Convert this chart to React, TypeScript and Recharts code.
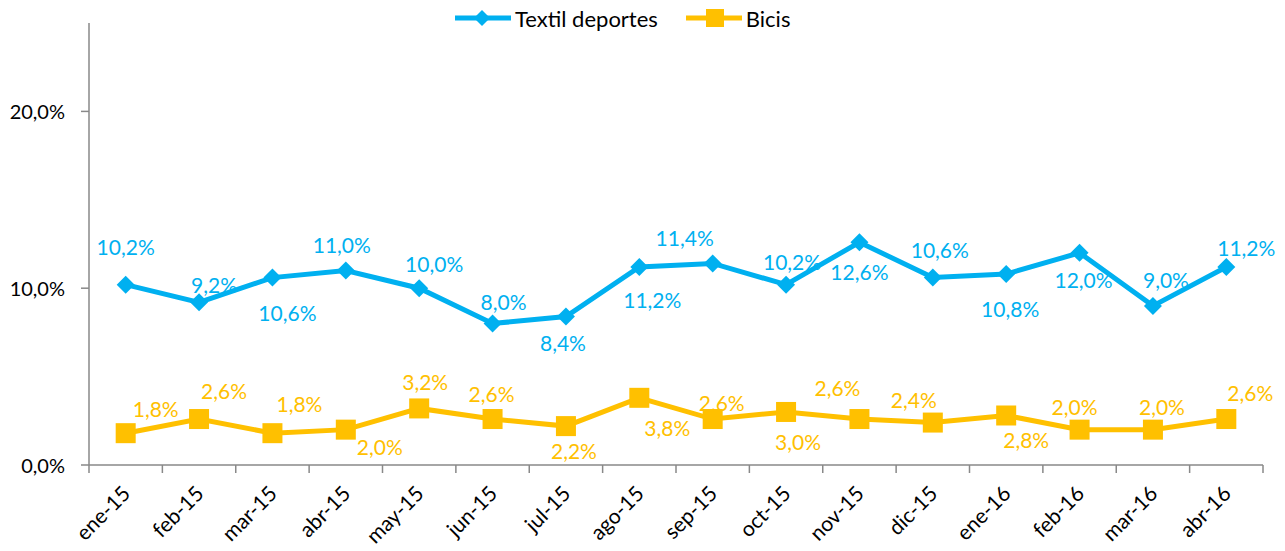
import React from 'react';
import { LineChart, Line, XAxis, YAxis } from 'recharts';

const months = [
  'ene-15', 'feb-15', 'mar-15', 'abr-15', 'may-15', 'jun-15', 'jul-15', 'ago-15',
  'sep-15', 'oct-15', 'nov-15', 'dic-15', 'ene-16', 'feb-16', 'mar-16', 'abr-16',
];
const textilDeportes = [10.2, 9.2, 10.6, 11.0, 10.0, 8.0, 8.4, 11.2, 11.4, 10.2, 12.6, 10.6, 10.8, 12.0, 9.0, 11.2];
const bicis = [1.8, 2.6, 1.8, 2.0, 3.2, 2.6, 2.2, 3.8, 2.6, 3.0, 2.6, 2.4, 2.8, 2.0, 2.0, 2.6];
const yTicks = [0, 10, 20];

// label placement (style only): [dx, dy] from the point to the label centre
const blueLabelOffsets: [number, number][] = [
  [0, -38], [15, -18], [15, 35], [-4, -26], [15, -25], [11, -22], [-3, 26], [13, 33],
  [-28, -26], [6, -23], [0, 29], [7, -28], [4, 34], [4, 27], [13, -26], [20, -19],
];
const yellowLabelOffsets: [number, number][] = [
  [30, -25], [25, -29], [27, -30], [34, 17], [6, -27], [-1, -26], [8, 24], [28, 30],
  [9, -17], [12, 30], [-22, -32], [-19, -23], [20, 24], [-5, -23], [9, -23], [24, -27],
];

const data = months.map((m, i) => ({ month: m, textil: textilDeportes[i], bicis: bicis[i] }));

const BLUE = '#00B0F0';
const YELLOW = '#FFC000';
const AXIS = '#898989';
const FONT = 'Lato, "Open Sans", sans-serif';

const W = 1285;
const H = 551;
const PLOT_LEFT = 89;
const PLOT_RIGHT = 1263;
const STEP = (PLOT_RIGHT - PLOT_LEFT) / months.length;

const fmt = (v: number) => v.toFixed(1).replace('.', ',') + '%';

const Diamond = (p: any) => {
  const { cx, cy } = p;
  if (cx == null || cy == null) return <g />;
  const r = 9;
  return (
    <polygon
      points={`${cx},${cy - r} ${cx + r},${cy} ${cx},${cy + r} ${cx - r},${cy}`}
      fill={BLUE}
    />
  );
};

const Square = (p: any) => {
  const { cx, cy } = p;
  if (cx == null || cy == null) return <g />;
  const r = 10;
  return <rect x={cx - r} y={cy - r} width={2 * r} height={2 * r} fill={YELLOW} />;
};

const makeLabel = (offsets: [number, number][], color: string) => (p: any) => {
  const { x, y, value, index } = p;
  if (x == null || y == null) return <g />;
  const [dx, dy] = offsets[index] || [0, -20];
  return (
    <text
      key={`l-${index}`}
      x={x + dx}
      y={y + dy}
      textAnchor="middle"
      dominantBaseline="central"
      fill={color}
      fontSize={21}
      fontFamily={FONT}
    >
      {fmt(Number(value))}
    </text>
  );
};

const XTick = (p: any) => {
  const { x, y, payload, index } = p;
  const ax = x + 6;
  const ay = y + 30;
  return (
    <g>
      <line x1={x - STEP / 2} y1={y} x2={x - STEP / 2} y2={y + 8} stroke={AXIS} strokeWidth={1.5} />
      {index === months.length - 1 && (
        <line x1={x + STEP / 2} y1={y} x2={x + STEP / 2} y2={y + 8} stroke={AXIS} strokeWidth={1.5} />
      )}
      <text
        x={ax}
        y={ay}
        transform={`rotate(-45 ${ax} ${ay})`}
        textAnchor="end"
        fill="#000"
        fontSize={21}
        fontFamily={FONT}
      >
        {payload.value}
      </text>
    </g>
  );
};

const YTickLabel = (p: any) => {
  const { x, y, payload } = p;
  return (
    <text x={x} y={y} textAnchor="end" dominantBaseline="central" fill="#000" fontSize={20} fontFamily={FONT}>
      {fmt(Number(payload.value))}
    </text>
  );
};

const LegendOverlay = () => (
  <div
    style={{
      position: 'absolute',
      left: 455,
      top: 4,
      display: 'flex',
      alignItems: 'center',
      fontFamily: FONT,
      fontSize: 22,
      color: '#000',
      height: 28,
      whiteSpace: 'nowrap',
    }}
  >
    <svg width={56} height={20} style={{ display: 'block' }}>
      <line x1={0} y1={10} x2={56} y2={10} stroke={BLUE} strokeWidth={5} />
      <polygon points="27,2 35,10 27,18 19,10" fill={BLUE} />
    </svg>
    <span style={{ marginLeft: 4, marginRight: 28 }}>Textil deportes</span>
    <svg width={56} height={20} style={{ display: 'block' }}>
      <line x1={0} y1={10} x2={56} y2={10} stroke={YELLOW} strokeWidth={5} />
      <rect x={20} y={1} width={18} height={18} fill={YELLOW} />
    </svg>
    <span style={{ marginLeft: 4 }}>Bicis</span>
  </div>
);

export default function App() {
  return (
    <div style={{ position: 'absolute', left: 0, top: 0, width: W, height: H, background: '#fff' }}>
      <LineChart
        width={W}
        height={H}
        data={data}
        margin={{ top: 23, right: W - PLOT_RIGHT, bottom: 0, left: 0 }}
      >
        <XAxis
          dataKey="month"
          interval={0}
          tickLine={false}
          tickSize={0}
          tickMargin={0}
          height={86}
          padding={{ left: STEP / 2, right: STEP / 2 }}
          axisLine={{ stroke: AXIS, strokeWidth: 1.5 }}
          tick={<XTick />}
        />
        <YAxis
          domain={[0, 25]}
          ticks={yTicks}
          width={PLOT_LEFT}
          tickSize={8}
          tickMargin={16}
          axisLine={{ stroke: AXIS, strokeWidth: 1.5 }}
          tickLine={{ stroke: AXIS, strokeWidth: 1.5 }}
          tick={<YTickLabel />}
          allowDataOverflow
        />
        <Line
          dataKey="textil"
          stroke={BLUE}
          strokeWidth={5}
          dot={(p: any) => <Diamond key={`d-${p.index}`} {...p} />}
          activeDot={false}
          label={makeLabel(blueLabelOffsets, BLUE)}
          isAnimationActive={false}
        />
        <Line
          dataKey="bicis"
          stroke={YELLOW}
          strokeWidth={5}
          dot={(p: any) => <Square key={`s-${p.index}`} {...p} />}
          activeDot={false}
          label={makeLabel(yellowLabelOffsets, YELLOW)}
          isAnimationActive={false}
        />
      </LineChart>
      <LegendOverlay />
    </div>
  );
}
